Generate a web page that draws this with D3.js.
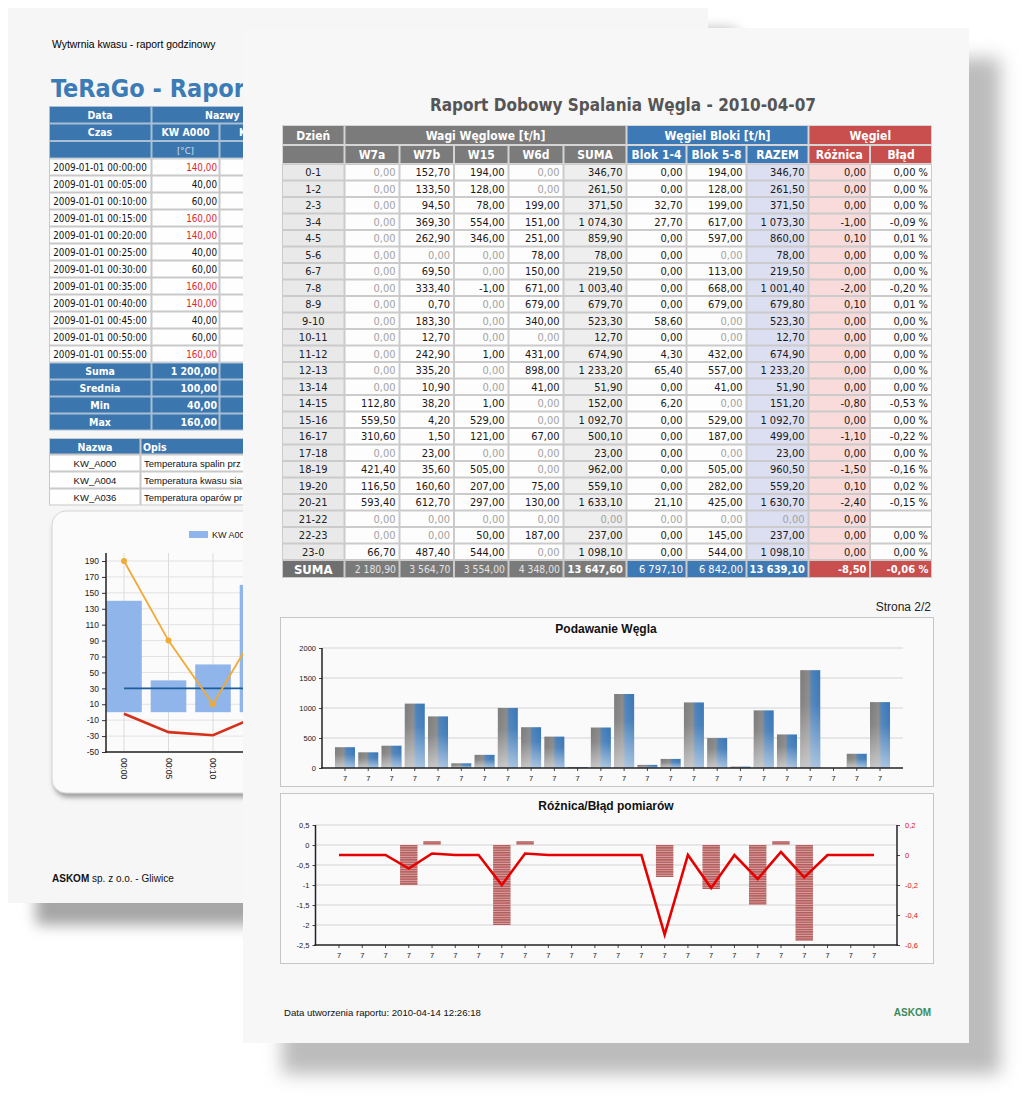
<!DOCTYPE html>
<html><head><meta charset="utf-8">
<script src="https://cdn.jsdelivr.net/npm/d3@7"></script>
<style>html,body{margin:0;padding:0;background:#fff}svg{display:block}</style>
</head><body>
<svg id="c" width="1024" height="1106"></svg>
<script>
// ---------------- DATA (front page) ----------------
const hours = ["0-1","1-2","2-3","3-4","4-5","5-6","6-7","7-8","8-9","9-10","10-11","11-12","12-13","13-14","14-15","15-16","16-17","17-18","18-19","19-20","20-21","21-22","22-23","23-0"];
const w7a = [0,0,0,0,0,0,0,0,0,0,0,0,0,0,112.8,559.5,310.6,0,421.4,116.5,593.4,0,0,66.7];
const w7b = [152.7,133.5,94.5,369.3,262.9,0,69.5,333.4,0.7,183.3,12.7,242.9,335.2,10.9,38.2,4.2,1.5,23,35.6,160.6,612.7,0,0,487.4];
const w15 = [194,128,78,554,346,0,0,-1,0,0,0,1,0,0,1,529,121,0,505,207,297,0,50,544];
const w6d = [0,0,199,151,251,78,150,671,679,340,0,431,898,41,0,0,67,0,0,75,130,0,187,0];
const suma = [346.7,261.5,371.5,1074.3,859.9,78,219.5,1003.4,679.7,523.3,12.7,674.9,1233.2,51.9,152,1092.7,500.1,23,962,559.1,1633.1,0,237,1098.1];
const blok14 = [0,0,32.7,27.7,0,0,0,0,0,58.6,0,4.3,65.4,0,6.2,0,0,0,0,0,21.1,0,0,0];
const blok58 = [194,128,199,617,597,0,113,668,679,0,0,432,557,41,0,529,187,0,505,282,425,0,145,544];
const razem = [346.7,261.5,371.5,1073.3,860,78,219.5,1001.4,679.8,523.3,12.7,674.9,1233.2,51.9,151.2,1092.7,499,23,960.5,559.2,1630.7,0,237,1098.1];
const roznica = [0,0,0,-1,0.1,0,0,-2,0.1,0,0,0,0,0,-0.8,0,-1.1,0,-1.5,0.1,-2.4,0,0,0];
const blad = [0,0,0,-0.09,0.01,0,0,-0.2,0.01,0,0,0,0,0,-0.53,0,-0.22,0,-0.16,0.02,-0.15,null,0,0];
const totals = [2180.9,3564.7,3554,4348,13647.6,6797.1,6842,13639.1,-8.5,-0.06];
const groupHeaders = ["Dzień","Wagi Węglowe [t/h]","Węgiel Bloki [t/h]","Węgiel"];
const colHeaders = ["W7a","W7b","W15","W6d","SUMA","Blok 1-4","Blok 5-8","RAZEM","Różnica","Błąd"];
const xLabels = ["7","7","7","7","7","7","7","7","7","7","7","7","7","7","7","7","7","7","7","7","7","7","7","7"];
const barTicks = [0,500,1000,1500,2000];
const diffLeftTicks = [0.5,0,-0.5,-1,-1.5,-2,-2.5];
const diffRightTicks = [0.2,0,-0.2,-0.4,-0.6];

// ---------------- DATA (back page) ----------------
const backTimes = ["2009-01-01 00:00:00","2009-01-01 00:05:00","2009-01-01 00:10:00","2009-01-01 00:15:00","2009-01-01 00:20:00","2009-01-01 00:25:00","2009-01-01 00:30:00","2009-01-01 00:35:00","2009-01-01 00:40:00","2009-01-01 00:45:00","2009-01-01 00:50:00","2009-01-01 00:55:00"];
const backValues = [140,40,60,160,140,40,60,160,140,40,60,160];
const backStatLabels = ["Suma","Srednia","Min","Max"];
const backStatValues = [1200,100,40,160];
const backNames = ["KW_A000","KW_A004","KW_A036"];
const backDescs = ["Temperatura spalin prz","Temperatura kwasu sia","Temperatura oparów pr"];
const backCats = ["00:00","00:05","00:10","00:15"];
const backBars = [140,40,60,160];
const backOrange = [190,90,10,105];
const backBlue = [30,30,30,30];
const backRed = [-2,-25,-29,-5];
const backTicks = [190,170,150,130,110,90,70,50,30,10,-10,-30,-50];

// ---------------- SETUP ----------------
const FT = "'DejaVu Sans Condensed','DejaVu Sans',sans-serif";
const FA = "'Liberation Sans',Arial,sans-serif";
const loc = d3.formatLocale({decimal:",", thousands:" ", grouping:[3], currency:["",""], minus:"-"});
const fmt2 = loc.format(",.2f");
const fmtT = loc.format(".1~f");
const fmtD = loc.format("d");

const svg = d3.select("#c");
const defs = svg.append("defs");
defs.append("filter").attr("id","blurF").attr("x","-10%").attr("y","-10%").attr("width","120%").attr("height","120%")
  .append("feGaussianBlur").attr("stdDeviation",9);
defs.append("filter").attr("id","blurB").attr("x","-10%").attr("y","-10%").attr("width","120%").attr("height","120%")
  .append("feGaussianBlur").attr("stdDeviation",7);
defs.append("filter").attr("id","panelSh").attr("x","-10%").attr("y","-10%").attr("width","120%").attr("height","130%")
  .append("feDropShadow").attr("dx",2).attr("dy",4).attr("stdDeviation",2.5).attr("flood-color","#777").attr("flood-opacity",0.7);
const bg = defs.append("linearGradient").attr("id","barGrad").attr("x1",0).attr("x2",1).attr("y1",0).attr("y2",0);
[[0,"#7c7c7c"],[0.42,"#8a8a8a"],[0.58,"#4b82bc"],[1,"#3a77b5"]].forEach(s=>bg.append("stop").attr("offset",s[0]).attr("stop-color",s[1]));
const bs = defs.append("linearGradient").attr("id","barShade").attr("x1",0).attr("x2",0).attr("y1",0).attr("y2",1);
[[0,0],[0.35,0.05],[1,0.55]].forEach(s=>bs.append("stop").attr("offset",s[0]).attr("stop-color","#fff").attr("stop-opacity",s[1]));
const hp = defs.append("pattern").attr("id","hatch").attr("width",4).attr("height",2.4).attr("patternUnits","userSpaceOnUse");
hp.append("rect").attr("width",4).attr("height",2.4).attr("fill","#d9a3a3");
hp.append("rect").attr("width",4).attr("height",1.4).attr("fill","#b25a5a");

function text(g, x, y, s, o={}) {
  return g.append("text").attr("x",x).attr("y",y).text(s)
    .attr("font-family",o.f||FA).attr("font-size",o.s||10).attr("fill",o.c||"#111")
    .attr("font-weight",o.w||"normal").attr("text-anchor",o.a||"start");
}

svg.append("rect").attr("width",1024).attr("height",1106).attr("fill","#fff");

// ================= BACK PAGE =================
svg.append("rect").attr("x",36).attr("y",30).attr("width",700).attr("height",895).attr("fill","#a6a6a6").attr("filter","url(#blurB)");
const back = svg.append("g");
back.append("rect").attr("x",8).attr("y",8).attr("width",700).attr("height",895).attr("fill","#f6f6f6");
text(back,52,48,"Wytwrnia kwasu - raport godzinowy",{s:10.4,c:"#000"});
text(back,51,97,"TeRaGo - Raport",{f:FT,s:25,w:"bold",c:"#3b7bb6"});

// back main table
const bxe = [49,151.5,219.5,306];
const BLUE_B = "#3b76ae";
back.append("rect").attr("x",49).attr("y",106).attr("width",257).attr("height",52.5).attr("fill","#a9bfd5");
back.append("rect").attr("x",49).attr("y",158.5).attr("width",257).attr("height",204).attr("fill","#c9c9c9");
back.append("rect").attr("x",49).attr("y",362.5).attr("width",257).attr("height",68).attr("fill","#a9bfd5");
function cell(g,x0,x1,y,h,fill){ g.append("rect").attr("x",x0+1).attr("y",y+1).attr("width",x1-x0-2).attr("height",h-2).attr("fill",fill); }
cell(back,49,151.5,106,17.5,BLUE_B); cell(back,151.5,306,106,17.5,BLUE_B);
text(back,100,118.5,"Data",{f:FT,s:10.5,w:"bold",c:"#fff",a:"middle"});
text(back,205,118.5,"Nazwy",{f:FT,s:10.5,w:"bold",c:"#fff"});
for (let c=0;c<3;c++){ cell(back,bxe[c],bxe[c+1],123.5,17.5,BLUE_B); cell(back,bxe[c],bxe[c+1],141,17.5,BLUE_B); }
text(back,100,136,"Czas",{f:FT,s:10.5,w:"bold",c:"#fff",a:"middle"});
text(back,185.5,136,"KW A000",{f:FT,s:10.5,w:"bold",c:"#fff",a:"middle"});
text(back,263,136,"KW A004",{f:FT,s:10.5,w:"bold",c:"#fff",a:"middle"});
text(back,185.5,153.5,"[°C]",{f:FT,s:9.5,c:"#cfe0f2",a:"middle"});
text(back,263,153.5,"[°C]",{f:FT,s:9.5,c:"#cfe0f2",a:"middle"});
backTimes.forEach((t,i)=>{
  const y = 158.5+17*i;
  for (let c=0;c<3;c++) cell(back,bxe[c],bxe[c+1],y,17,"#fefefe");
  text(back,100,y+12,t,{f:FT,s:9.8,c:"#111",a:"middle"});
  text(back,217,y+12,fmt2(backValues[i]),{f:FT,s:9.8,c:backValues[i]>100?"#e3262b":"#111",a:"end"});
});
backStatLabels.forEach((l,j)=>{
  const y = 362.5+17*j;
  for (let c=0;c<3;c++) cell(back,bxe[c],bxe[c+1],y,17,BLUE_B);
  text(back,100,y+12,l,{f:FT,s:10.5,w:"bold",c:"#fff",a:"middle"});
  text(back,217,y+12,fmt2(backStatValues[j]),{f:FT,s:10.5,w:"bold",c:"#fff",a:"end"});
});
back.append("rect").attr("x",49).attr("y",438).attr("width",257).attr("height",67.5).attr("fill","#c9c9c9");
cell(back,49,140.5,438,16.5,BLUE_B); cell(back,140.5,306,438,16.5,BLUE_B);
text(back,95,450.5,"Nazwa",{f:FT,s:10.5,w:"bold",c:"#fff",a:"middle"});
text(back,143,450.5,"Opis",{f:FT,s:10.5,w:"bold",c:"#fff"});
backNames.forEach((n,k)=>{
  const y = 454.5+17*k;
  cell(back,49,140.5,y,17,"#fefefe"); cell(back,140.5,306,y,17,"#fefefe");
  text(back,95,y+12,n,{s:9.5,c:"#111",a:"middle"});
  text(back,144,y+12,backDescs[k],{s:9.5,c:"#111"});
});
// back chart panel
back.append("rect").attr("x",52).attr("y",511).attr("width",640).attr("height",282).attr("rx",14)
  .attr("fill","#fbfbfb").attr("stroke","#d6d6d6").attr("filter","url(#panelSh)");
back.append("rect").attr("x",189).attr("y",531).attr("width",19).attr("height",7).attr("fill","#8fb5ea");
text(back,212,538,"KW A000",{s:9,c:"#222"});
const byS = d3.scaleLinear().domain([-50,190]).range([752,561]);
const bxS = d3.scaleBand().domain(backCats).range([101.75,279.75]).paddingInner(0.2).paddingOuter(0.1);
const bcx = c => bxS(c)+bxS.bandwidth()/2;
back.append("g").selectAll("line").data(backTicks).join("line")
  .attr("x1",106).attr("x2",690).attr("y1",d=>byS(d)).attr("y2",d=>byS(d)).attr("stroke","#e2e2e2");
back.append("g").selectAll("line").data(backCats).join("line")
  .attr("x1",bcx).attr("x2",bcx).attr("y1",553).attr("y2",752).attr("stroke","#dcdcdc");
back.append("g").selectAll("rect").data(backBars).join("rect")
  .attr("x",(d,i)=>bxS(backCats[i])).attr("width",bxS.bandwidth())
  .attr("y",d=>byS(d)).attr("height",d=>byS(0)-byS(d)).attr("fill","#8fb5ea");
const bline = arr => d3.line().x((d,i)=>bcx(backCats[i])).y(d=>byS(d))(arr);
back.append("path").attr("d",bline(backBlue)).attr("fill","none").attr("stroke","#1d5d9c").attr("stroke-width",1.6);
back.append("path").attr("d",bline(backRed)).attr("fill","none").attr("stroke","#d7301a").attr("stroke-width",2.6);
back.append("path").attr("d",bline(backOrange)).attr("fill","none").attr("stroke","#f0aa35").attr("stroke-width",1.8);
back.append("g").selectAll("circle").data(backOrange).join("circle")
  .attr("cx",(d,i)=>bcx(backCats[i])).attr("cy",d=>byS(d)).attr("r",3).attr("fill","#f0aa35");
const bya = back.append("g").attr("transform","translate(106,0)")
  .call(d3.axisLeft(byS).tickValues(backTicks).tickSize(4).tickFormat(fmtD));
bya.select(".domain").remove();
bya.selectAll("text").attr("font-family",FA).attr("font-size",8.5).attr("fill","#222");
bya.selectAll(".tick line").attr("stroke","#333");
back.append("line").attr("x1",106).attr("x2",106).attr("y1",553).attr("y2",752.5).attr("stroke","#222").attr("stroke-width",1.5);
back.append("line").attr("x1",105).attr("x2",690).attr("y1",752).attr("y2",752).attr("stroke","#222").attr("stroke-width",1.5);
backCats.forEach(c=>{
  back.append("text").attr("transform",`translate(${bcx(c)},758) rotate(90)`).attr("dy","0.35em").text(c)
    .attr("font-family",FA).attr("font-size",8.5).attr("fill","#222");
});
const ask = text(back,52,882,"",{s:10,c:"#111"});
ask.append("tspan").attr("font-weight","bold").text("ASKOM");
ask.append("tspan").text(" sp. z o.o. - Gliwice");

// ================= FRONT PAGE =================
svg.append("rect").attr("x",282).attr("y",58).attr("width",718).attr("height",1016).attr("fill","#bcbcbc").attr("filter","url(#blurF)");
const fr = svg.append("g");
fr.append("rect").attr("x",243).attr("y",28).attr("width",726).attr("height",1015).attr("fill","#f7f7f7");
text(fr,623,111,"Raport Dobowy Spalania Węgla - 2010-04-07",{f:FT,s:17,w:"bold",c:"#555",a:"middle"});

const colW = [62.5,55,54.5,54.5,55,63,60,60,62,61.5,62];
const ce = [282]; colW.forEach(w=>ce.push(ce[ce.length-1]+w));
const GRAY="#7b7b7b", BLUE="#3d79b4", RED="#c84f4d";
const groupSpan = [[0,0,GRAY],[1,5,GRAY],[6,8,BLUE],[9,10,RED]];
const colColor = c => c<=5?GRAY:(c<=8?BLUE:RED);
fr.append("rect").attr("x",282).attr("y",125).attr("width",650).attr("height",39).attr("fill","#d5d5d5");
fr.append("rect").attr("x",282).attr("y",164).attr("width",650).attr("height",414).attr("fill","#cbcbcb");
groupSpan.forEach((gs,k)=>{
  cell(fr,ce[gs[0]],ce[gs[1]+1],125,20,gs[2]);
  text(fr,(ce[gs[0]]+ce[gs[1]+1])/2,139.5,groupHeaders[k],{f:FT,s:12,w:"bold",c:"#fff",a:"middle"});
});
cell(fr,ce[0],ce[1],145,19,GRAY);
colHeaders.forEach((h,c)=>{
  cell(fr,ce[c+1],ce[c+2],145,19,colColor(c+1));
  text(fr,(ce[c+1]+ce[c+2])/2,159,h,{f:FT,s:12,w:"bold",c:"#fff",a:"middle"});
});
const tableValues = [w7a,w7b,w15,w6d,suma,blok14,blok58,razem,roznica,blad];
const colFill = ["#fdfdfd","#fdfdfd","#fdfdfd","#fdfdfd","#eeeeee","#fdfdfd","#fdfdfd","#dcdef2","#f8dbda","#fdfdfd"];
hours.forEach((h,r)=>{
  const y = 164+16.5*r;
  cell(fr,ce[0],ce[1],y,16.5,"#e9e9e9");
  text(fr,(ce[0]+ce[1])/2,y+12.2,h,{f:FT,s:11,c:"#222",a:"middle"});
  tableValues.forEach((arr,c)=>{
    cell(fr,ce[c+1],ce[c+2],y,16.5,colFill[c]);
    const v = arr[r];
    if (v===null) return;
    const s = c===9 ? fmt2(v)+" %" : fmt2(v);
    const grayZero = v===0 && ((c<=4||c===6||c===7) || (c===5 && suma[r]===0));
    text(fr,ce[c+2]-4,y+12.2,s,{f:FT,s:11,c:grayZero?"#a3a3a3":"#1a1a1a",a:"end"});
  });
});
const sy = 560;
cell(fr,ce[0],ce[1],sy,18,"#6f6f6f");
text(fr,(ce[0]+ce[1])/2,sy+13.5,"SUMA",{f:FT,s:13,w:"bold",c:"#fff",a:"middle"});
const boldTot = [false,false,false,false,true,false,false,true,true,true];
totals.forEach((v,c)=>{
  const col = colColor(c+1);
  cell(fr,ce[c+1],ce[c+2],sy,18,col===GRAY?"#7a7a7a":col);
  const s = c===9 ? fmt2(v)+" %" : fmt2(v);
  const plainGray = col===GRAY && !boldTot[c];
  text(fr,ce[c+2]-3.5,sy+13,s,{f:FT,s:plainGray?10.3:11,w:boldTot[c]?"bold":"normal",c:plainGray?"#e4e4e4":"#fff",a:"end"});
});

text(fr,931,611,"Strona 2/2",{s:12,c:"#222",a:"end"});

// ---------- Bar chart: Podawanie Węgla ----------
const bc = fr.append("g");
bc.append("rect").attr("x",280.5).attr("y",617.5).attr("width",653).attr("height",169).attr("fill","#fafafa").attr("stroke","#c6c6c6");
text(bc,606,633,"Podawanie Węgla",{s:12,w:"bold",c:"#111",a:"middle"});
const yb = d3.scaleLinear().domain([0,2000]).range([768,648]);
const xb = d3.scaleBand().domain(d3.range(24)).range([333.35,891.65]).paddingInner(0.14).paddingOuter(0.07);
bc.append("g").selectAll("line").data(barTicks.filter(t=>t>0)).join("line")
  .attr("x1",322).attr("x2",903).attr("y1",d=>yb(d)).attr("y2",d=>yb(d)).attr("stroke","#d4d4d4");
const bg2 = bc.append("g").selectAll("g").data(razem).join("g");
bg2.append("rect").attr("x",(d,i)=>xb(i)).attr("width",xb.bandwidth()).attr("y",d=>yb(d)).attr("height",d=>yb(0)-yb(d)).attr("fill","url(#barGrad)");
bg2.append("rect").attr("x",(d,i)=>xb(i)).attr("width",xb.bandwidth()).attr("y",d=>yb(d)).attr("height",d=>yb(0)-yb(d)).attr("fill","url(#barShade)");
const yba = bc.append("g").attr("transform","translate(322,0)").call(d3.axisLeft(yb).tickValues(barTicks).tickSize(3).tickFormat(fmtD));
yba.select(".domain").remove();
yba.selectAll("text").attr("font-family",FA).attr("font-size",7.5).attr("fill","#222");
yba.selectAll(".tick line").attr("stroke","#444");
const xba = bc.append("g").attr("transform","translate(0,768)").call(d3.axisBottom(xb).tickSize(3).tickFormat(i=>xLabels[i]));
xba.select(".domain").remove();
xba.selectAll("text").attr("font-family",FA).attr("font-size",7.5).attr("fill","#222").attr("dy","0.9em");
xba.selectAll(".tick line").attr("stroke","#444");
bc.append("line").attr("x1",322).attr("x2",322).attr("y1",648).attr("y2",768.5).attr("stroke","#222").attr("stroke-width",1.5);
bc.append("line").attr("x1",321).attr("x2",903).attr("y1",768).attr("y2",768).attr("stroke","#222").attr("stroke-width",1.5);

// ---------- Diff chart: Różnica/Błąd pomiarów ----------
const dc = fr.append("g");
dc.append("rect").attr("x",280.5).attr("y",793.5).attr("width",653).attr("height",170).attr("fill","#fafafa").attr("stroke","#c6c6c6");
text(dc,606,810,"Różnica/Błąd pomiarów",{s:12,w:"bold",c:"#111",a:"middle"});
const yl = d3.scaleLinear().domain([-2.5,0.5]).range([945,825]);
const yr = d3.scaleLinear().domain([-0.6,0.2]).range([945,825]);
const xd = d3.scaleBand().domain(d3.range(24)).range([327.35,885.65]).paddingInner(0.25).paddingOuter(0.125);
dc.append("g").selectAll("line").data(diffLeftTicks.filter(t=>t>-2.5)).join("line")
  .attr("x1",315.5).attr("x2",897).attr("y1",d=>yl(d)).attr("y2",d=>yl(d)).attr("stroke","#d4d4d4");
dc.append("g").selectAll("rect").data(roznica).join("rect")
  .attr("x",(d,i)=>xd(i)).attr("width",xd.bandwidth())
  .attr("y",d=>yl(Math.max(0,d))).attr("height",d=>Math.abs(yl(d)-yl(0))).attr("fill","url(#hatch)");
const bladLine = blad.map(v=>v===null?0:v);
dc.append("path").attr("d",d3.line().x((d,i)=>xd(i)+xd.bandwidth()/2).y(d=>yr(d))(bladLine))
  .attr("fill","none").attr("stroke","#e60000").attr("stroke-width",2.6);
const yla = dc.append("g").attr("transform","translate(315.5,0)").call(d3.axisLeft(yl).tickValues(diffLeftTicks).tickSize(3).tickFormat(fmtT));
yla.select(".domain").remove();
yla.selectAll("text").attr("font-family",FA).attr("font-size",7.5).attr("fill","#222");
yla.selectAll(".tick line").attr("stroke","#444");
const yra = dc.append("g").attr("transform","translate(897,0)").call(d3.axisRight(yr).tickValues(diffRightTicks).tickSize(3).tickFormat(fmtT));
yra.select(".domain").remove();
yra.selectAll("text").attr("font-family",FA).attr("font-size",7.5).attr("fill","#e01010").attr("x",8);
yra.selectAll(".tick line").attr("stroke","#444");
const xda = dc.append("g").attr("transform","translate(0,945)").call(d3.axisBottom(xd).tickSize(3).tickFormat(i=>xLabels[i]));
xda.select(".domain").remove();
xda.selectAll("text").attr("font-family",FA).attr("font-size",7.5).attr("fill","#222").attr("dy","0.9em");
xda.selectAll(".tick line").attr("stroke","#444");
dc.append("line").attr("x1",315.5).attr("x2",315.5).attr("y1",825).attr("y2",945.5).attr("stroke","#222").attr("stroke-width",1.5);
dc.append("line").attr("x1",897).attr("x2",897).attr("y1",825).attr("y2",945.5).attr("stroke","#222").attr("stroke-width",1.5);
dc.append("line").attr("x1",314.5).attr("x2",898).attr("y1",945).attr("y2",945).attr("stroke","#222").attr("stroke-width",1.5);

// footer
text(fr,284,1016,"Data utworzenia raportu: 2010-04-14 12:26:18",{s:9.6,c:"#111"});
text(fr,931,1016,"ASKOM",{s:10,w:"bold",c:"#3a8a5c",a:"end"});
</script>
</body></html>
